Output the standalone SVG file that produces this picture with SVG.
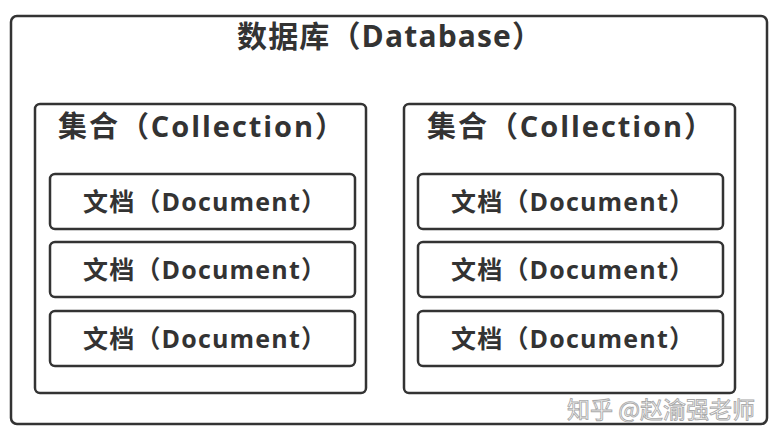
<svg xmlns="http://www.w3.org/2000/svg" width="778" height="442" viewBox="0 0 778 442">
<style>
.box{fill:#fff;stroke:#333;stroke-width:2.5}
.t{font-family:"Open Sans","Noto Sans CJK SC","Liberation Sans",sans-serif;font-weight:bold;fill:#333}
.title{font-size:30px}
.coll{font-size:29px}
.doc{font-size:25px}
.wm{font-family:"Noto Sans CJK SC",sans-serif;font-size:23px;fill:#fff;stroke:#aaa;stroke-width:0.9}
</style>
<rect x="0" y="0" width="778" height="442" fill="#fff"/>
<g id="database">
<rect class="box" x="11" y="16" width="756" height="408" rx="6"/>
<text class="t title" x="237" y="47" textLength="305" lengthAdjust="spacing">数据库（Database）</text>
</g>
<g id="collection1">
<rect class="box" x="35" y="104" width="331" height="289" rx="5"/>
<text class="t coll" x="58" y="137" textLength="286" lengthAdjust="spacing">集合（Collection）</text>
</g>
<g id="collection2">
<rect class="box" x="404" y="104" width="331" height="289" rx="5"/>
<text class="t coll" x="427" y="137" textLength="286" lengthAdjust="spacing">集合（Collection）</text>
</g>
<g id="doc1-1"><rect class="box" x="50" y="174" width="305" height="55" rx="5"/><text class="t doc" x="83" y="211" textLength="243" lengthAdjust="spacing">文档（Document）</text></g>
<g id="doc1-2"><rect class="box" x="50" y="242" width="305" height="55" rx="5"/><text class="t doc" x="83" y="279" textLength="243" lengthAdjust="spacing">文档（Document）</text></g>
<g id="doc1-3"><rect class="box" x="50" y="311" width="305" height="55" rx="5"/><text class="t doc" x="83" y="348" textLength="243" lengthAdjust="spacing">文档（Document）</text></g>
<g id="doc2-1"><rect class="box" x="418" y="174" width="305" height="55" rx="5"/><text class="t doc" x="451" y="211" textLength="243" lengthAdjust="spacing">文档（Document）</text></g>
<g id="doc2-2"><rect class="box" x="418" y="242" width="305" height="55" rx="5"/><text class="t doc" x="451" y="279" textLength="243" lengthAdjust="spacing">文档（Document）</text></g>
<g id="doc2-3"><rect class="box" x="418" y="311" width="305" height="55" rx="5"/><text class="t doc" x="451" y="348" textLength="243" lengthAdjust="spacing">文档（Document）</text></g>
<g id="connectors"></g>
<text class="wm" x="567" y="418">知乎 @赵渝强老师</text>
</svg>
